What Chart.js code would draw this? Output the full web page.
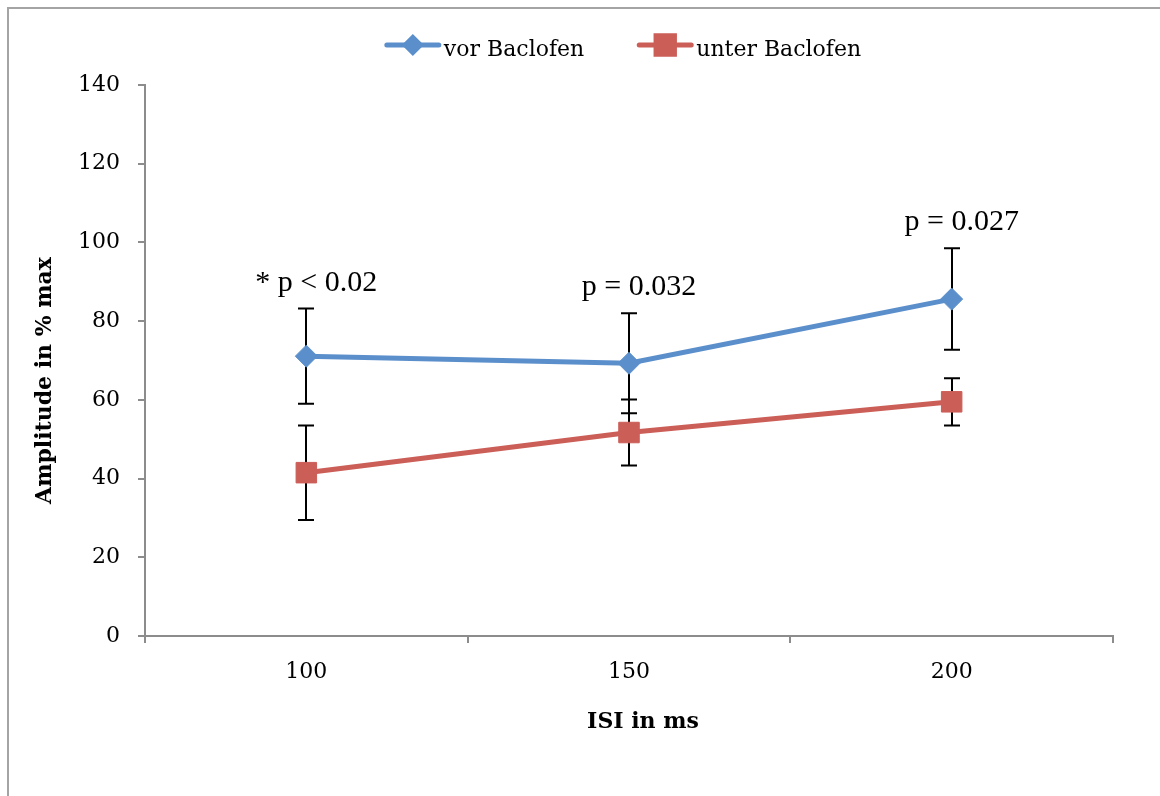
<!DOCTYPE html>
<html>
<head>
<meta charset="utf-8">
<title>Amplitude vor / unter Baclofen</title>
<script src="https://cdn.jsdelivr.net/npm/chart.js@4/dist/chart.umd.min.js"></script>
<style>
    html, body { margin: 0; padding: 0; background: #fff; }
    #wrap { position: relative; width: 1160px; height: 796px; }
    #frame {
        position: absolute; left: 7px; top: 7px; right: 0; bottom: 0;
        border-left: 2px solid #a4a4a4; border-top: 2px solid #a4a4a4;
    }
    #chart { position: absolute; left: 0; top: 0; }
</style>
</head>
<body>
<div id="wrap">
    <div id="frame"></div>
    <canvas id="chart" width="1160" height="796"></canvas>
</div>
<script>
/* ---------- data ---------- */
const isiLabels = ['100', '150', '200'];

const vorValues = [71.1, 69.3, 85.6];
const vorErrors = [12.1, 12.7, 12.9];

const unterValues = [41.5, 51.7, 59.5];
const unterErrors = [12.0, 8.4, 6.0];

const pLabels = ['* p < 0.02', 'p = 0.032', 'p = 0.027'];

const xTitle = 'ISI in ms';
const yTitle = 'Amplitude in % max';

const yMin = 0;
const yMax = 140;
const yStep = 20;

/* ---------- styling ---------- */
const BLUE = '#5b8fcb';
const RED = '#cc5e58';
const AXIS = '#8c8c8c';
const SERIF = '"DejaVu Serif", "Liberation Serif", serif';

// black error bars, drawn under the lines and markers
const errorBars = {
    id: 'errorBars',
    beforeDatasetsDraw(chart) {
        const { ctx, scales: { x, y } } = chart;
        ctx.save();
        ctx.strokeStyle = '#000';
        ctx.lineWidth = 2;
        chart.data.datasets.forEach(ds => {
            ds.data.forEach((v, i) => {
                const px = Math.round(x.getPixelForValue(i));
                const top = y.getPixelForValue(v + ds.errors[i]);
                const bot = y.getPixelForValue(v - ds.errors[i]);
                ctx.beginPath();
                ctx.moveTo(px, top); ctx.lineTo(px, bot);
                ctx.moveTo(px - 8, top); ctx.lineTo(px + 8, top);
                ctx.moveTo(px - 8, bot); ctx.lineTo(px + 8, bot);
                ctx.stroke();
            });
        });
        ctx.restore();
    }
};

// p-value notes above the "vor" error bars
const pNotes = {
    id: 'pNotes',
    afterDatasetsDraw(chart) {
        const { ctx, scales: { x, y } } = chart;
        ctx.save();
        ctx.font = '30px "Liberation Serif", serif';
        ctx.fillStyle = '#000';
        ctx.textAlign = 'center';
        ctx.textBaseline = 'alphabetic';
        pLabels.forEach((txt, i) => {
            const top = y.getPixelForValue(vorValues[i] + vorErrors[i]);
            ctx.fillText(txt, x.getPixelForValue(i) + 10, top - 18);
        });
        ctx.restore();
    }
};

// axis titles, centred a little off the plot centre like the original
const axisTitles = {
    id: 'axisTitles',
    afterDraw(chart) {
        const { ctx, chartArea: a } = chart;
        ctx.save();
        ctx.font = 'bold 22px ' + SERIF;
        ctx.fillStyle = '#000';
        ctx.textAlign = 'center';
        ctx.textBaseline = 'middle';
        ctx.fillText(xTitle, (a.left + a.right) / 2 + 14, a.bottom + 86);
        ctx.translate(45, (a.top + a.bottom) / 2 + 20);
        ctx.rotate(-Math.PI / 2);
        ctx.fillText(yTitle, 0, 0);
        ctx.restore();
    }
};

// legend in the Excel style: line with marker, label right after it
const lineLegend = {
    id: 'lineLegend',
    afterDraw(chart) {
        const { ctx, chartArea } = chart;
        const lineLen = 56, textGap = 3, itemGap = 53, y = 45;
        ctx.save();
        ctx.font = '22px ' + SERIF;
        const items = chart.data.datasets.map(ds => ({
            ds, w: lineLen + textGap + ctx.measureText(ds.label).width
        }));
        const total = items.reduce((s, it) => s + it.w, 0) + itemGap * (items.length - 1);
        let x0 = (chartArea.left + chartArea.right) / 2 - 6 - total / 2;
        items.forEach(({ ds, w }) => {
            ctx.strokeStyle = ds.borderColor;
            ctx.lineWidth = 5;
            ctx.lineCap = 'round';
            ctx.beginPath();
            ctx.moveTo(x0 + 2, y); ctx.lineTo(x0 + lineLen - 2, y);
            ctx.stroke();
            ctx.fillStyle = ds.borderColor;
            Chart.helpers.drawPoint(ctx, {
                pointStyle: ds.pointStyle,
                radius: ds.pointStyle === 'rect' ? 13 : 7.5,
                borderWidth: 1,
                rotation: 0
            }, x0 + lineLen / 2, y);
            ctx.fillStyle = '#000';
            ctx.textAlign = 'left';
            ctx.textBaseline = 'alphabetic';
            ctx.fillText(ds.label, x0 + lineLen + textGap, y + 11);
            x0 += w + itemGap;
        });
        ctx.restore();
    }
};

new Chart(document.getElementById('chart'), {
    type: 'line',
    data: {
        labels: isiLabels,
        datasets: [
            {
                label: 'vor Baclofen',
                data: vorValues,
                errors: vorErrors,
                borderColor: BLUE,
                backgroundColor: BLUE,
                borderWidth: 5,
                tension: 0,
                pointStyle: 'rectRot',
                pointRadius: 11,
                pointBorderWidth: 1,
                pointBackgroundColor: BLUE,
                pointBorderColor: BLUE
            },
            {
                label: 'unter Baclofen',
                data: unterValues,
                errors: unterErrors,
                borderColor: RED,
                backgroundColor: RED,
                borderWidth: 5,
                tension: 0,
                pointStyle: 'rect',
                pointRadius: 14.5,
                pointBorderWidth: 1,
                pointBackgroundColor: RED,
                pointBorderColor: RED
            }
        ]
    },
    options: {
        responsive: false,
        animation: false,
        devicePixelRatio: 1,
        layout: { padding: { top: 85, right: 47, bottom: 0, left: 0 } },
        plugins: {
            legend: { display: false },
            tooltip: { enabled: false }
        },
        scales: {
            x: {
                offset: true,
                grid: { offset: true, drawOnChartArea: false, color: AXIS, lineWidth: 2, tickLength: 7 },
                border: { color: AXIS, width: 2 },
                ticks: { padding: 16, color: '#000', font: { family: SERIF, size: 22 } },
                afterFit: s => { s.height = 160; }
            },
            y: {
                min: yMin,
                max: yMax,
                grid: { drawOnChartArea: false, color: AXIS, lineWidth: 2, tickLength: 7 },
                border: { color: AXIS, width: 2 },
                ticks: { stepSize: yStep, padding: 18, color: '#000', font: { family: SERIF, size: 22 } },
                afterFit: s => { s.width = 145; }
            }
        }
    },
    plugins: [errorBars, pNotes, axisTitles, lineLegend]
});
</script>
</body>
</html>
